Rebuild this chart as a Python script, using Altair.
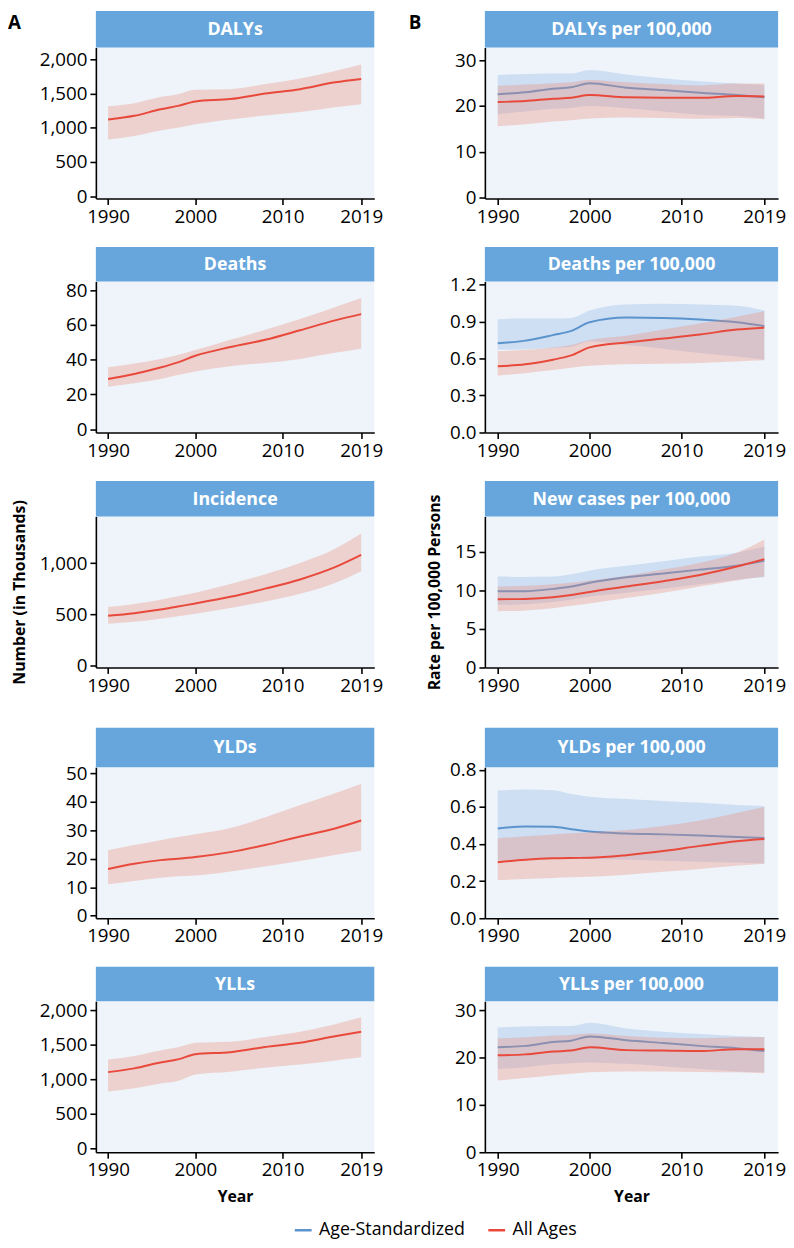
import altair as alt
import pandas as pd

FONT = "Open Sans"
YEARS = [1990, 1993, 1996, 1998, 2000, 2004, 2008, 2012, 2016, 2019]
GROUPS = ["Age-Standardized", "All Ages"]
X_TICKS = [1990, 2000, 2010, 2019]

# ---------- Panel A: number (in thousands), all ages ----------
DALYS_ALL = [1120, 1175, 1270, 1320, 1385, 1420, 1500, 1565, 1665, 1715]
DALYS_ALL_LO = [830, 880, 960, 1000, 1050, 1120, 1180, 1230, 1300, 1345]
DALYS_ALL_HI = [1315, 1360, 1450, 1490, 1555, 1565, 1640, 1720, 1830, 1925]

DEATHS_ALL = [28.9, 31.8, 35.5, 38.5, 42.3, 47.3, 51.5, 57.0, 62.7, 66.3]
DEATHS_ALL_LO = [24.4, 26.5, 28.9, 31.2, 33.3, 36.3, 38.2, 40.5, 44.0, 46.3]
DEATHS_ALL_HI = [35.7, 37.8, 40.5, 42.8, 45.6, 51.5, 57.3, 63.5, 70.3, 75.5]

INC_ALL = [485, 510, 545, 575, 605, 670, 750, 840, 960, 1080]
INC_ALL_LO = [405, 425, 455, 480, 505, 560, 625, 700, 805, 920]
INC_ALL_HI = [570, 600, 640, 675, 710, 795, 890, 1000, 1140, 1290]

YLDS_ALL = [16.4, 18.2, 19.5, 20.0, 20.6, 22.3, 24.8, 27.8, 30.6, 33.4]
YLDS_ALL_LO = [11.0, 12.2, 13.3, 13.8, 14.1, 15.5, 17.3, 19.2, 21.3, 22.8]
YLDS_ALL_HI = [23.0, 24.8, 26.5, 27.6, 28.6, 30.8, 34.5, 38.8, 43.0, 46.2]

YLLS_ALL = [1105, 1160, 1245, 1290, 1365, 1395, 1470, 1530, 1625, 1690]
YLLS_ALL_LO = [825, 870, 940, 975, 1070, 1110, 1170, 1215, 1275, 1320]
YLLS_ALL_HI = [1290, 1340, 1420, 1465, 1530, 1545, 1615, 1690, 1800, 1900]

# ---------- Panel B: rate per 100,000 ----------
DALYR_AS = [22.6, 23.0, 23.8, 24.1, 25.0, 24.0, 23.5, 22.9, 22.4, 21.9]
DALYR_AS_LO = [18.2, 18.8, 19.4, 19.6, 20.0, 19.5, 18.8, 18.1, 17.8, 17.3]
DALYR_AS_HI = [26.8, 27.0, 27.1, 27.1, 27.9, 26.9, 26.1, 25.4, 24.9, 24.6]
DALYR_ALL = [20.9, 21.1, 21.6, 21.8, 22.4, 21.9, 21.8, 21.8, 22.2, 22.1]
DALYR_ALL_LO = [15.6, 16.0, 16.6, 16.9, 17.3, 17.5, 17.4, 17.2, 17.4, 17.1]
DALYR_ALL_HI = [24.4, 24.7, 25.0, 25.2, 25.7, 25.2, 24.8, 24.5, 24.9, 24.9]

DEATHR_AS = [0.723, 0.745, 0.790, 0.824, 0.895, 0.933, 0.930, 0.918, 0.895, 0.864]
DEATHR_AS_LO = [0.670, 0.675, 0.685, 0.695, 0.740, 0.710, 0.680, 0.645, 0.615, 0.590]
DEATHR_AS_HI = [0.920, 0.925, 0.925, 0.930, 0.990, 1.040, 1.045, 1.040, 1.030, 0.990]
DEATHR_ALL = [0.536, 0.552, 0.590, 0.625, 0.690, 0.730, 0.762, 0.795, 0.835, 0.851]
DEATHR_ALL_LO = [0.460, 0.480, 0.505, 0.525, 0.540, 0.552, 0.556, 0.562, 0.575, 0.585]
DEATHR_ALL_HI = [0.660, 0.670, 0.690, 0.710, 0.750, 0.785, 0.835, 0.885, 0.940, 0.985]

INCR_AS = [9.88, 9.9, 10.2, 10.5, 11.0, 11.7, 12.2, 12.7, 13.2, 13.85]
INCR_AS_LO = [8.1, 8.2, 8.5, 8.8, 9.2, 9.7, 10.2, 10.8, 11.4, 11.7]
INCR_AS_HI = [11.8, 11.75, 11.8, 12.1, 12.6, 13.2, 13.8, 14.4, 14.9, 15.7]
INCR_ALL = [8.86, 8.9, 9.1, 9.4, 9.8, 10.5, 11.2, 12.0, 13.1, 14.06]
INCR_ALL_LO = [7.3, 7.4, 7.7, 8.0, 8.3, 9.0, 9.7, 10.5, 11.3, 11.8]
INCR_ALL_HI = [10.5, 10.6, 10.8, 11.0, 11.3, 11.9, 12.7, 13.6, 14.9, 16.6]

YLDR_AS = [0.484, 0.494, 0.493, 0.480, 0.467, 0.457, 0.452, 0.446, 0.438, 0.433]
YLDR_AS_LO = [0.310, 0.315, 0.320, 0.320, 0.320, 0.315, 0.310, 0.305, 0.300, 0.295]
YLDR_AS_HI = [0.688, 0.694, 0.690, 0.670, 0.655, 0.643, 0.632, 0.622, 0.611, 0.605]
YLDR_ALL = [0.302, 0.315, 0.323, 0.325, 0.326, 0.340, 0.362, 0.390, 0.415, 0.427]
YLDR_ALL_LO = [0.206, 0.211, 0.217, 0.221, 0.224, 0.235, 0.251, 0.266, 0.283, 0.294]
YLDR_ALL_HI = [0.431, 0.442, 0.452, 0.458, 0.463, 0.475, 0.497, 0.527, 0.567, 0.600]

YLLR_AS = [22.2, 22.5, 23.3, 23.6, 24.5, 23.7, 23.1, 22.5, 22.0, 21.4]
YLLR_AS_LO = [17.6, 18.0, 18.6, 18.8, 19.0, 18.7, 18.2, 17.6, 17.1, 16.9]
YLLR_AS_HI = [26.4, 26.6, 26.7, 26.7, 27.4, 26.2, 25.5, 25.0, 24.6, 24.4]
YLLR_ALL = [20.5, 20.7, 21.3, 21.5, 22.2, 21.6, 21.5, 21.4, 21.8, 21.8]
YLLR_ALL_LO = [15.2, 15.7, 16.3, 16.6, 16.9, 17.1, 17.1, 17.0, 16.9, 16.7]
YLLR_ALL_HI = [24.1, 24.3, 24.7, 24.8, 25.1, 24.6, 24.2, 24.1, 24.3, 24.4]

LEFT_SPECS = [
    dict(title="DALYs", series={"All Ages": (DALYS_ALL, DALYS_ALL_LO, DALYS_ALL_HI)},
         domain=[-35, 2175], ticks=[0, 500, 1000, 1500, 2000], fmt=",.0f"),
    dict(title="Deaths", series={"All Ages": (DEATHS_ALL, DEATHS_ALL_LO, DEATHS_ALL_HI)},
         domain=[-1.9, 85.1], ticks=[0, 20, 40, 60, 80], fmt="d"),
    dict(title="Incidence", series={"All Ages": (INC_ALL, INC_ALL_LO, INC_ALL_HI)},
         domain=[-22, 1457], ticks=[0, 500, 1000], fmt=",.0f"),
    dict(title="YLDs", series={"All Ages": (YLDS_ALL, YLDS_ALL_LO, YLDS_ALL_HI)},
         domain=[-0.9, 52.1], ticks=[0, 10, 20, 30, 40, 50], fmt="d"),
    dict(title="YLLs", series={"All Ages": (YLLS_ALL, YLLS_ALL_LO, YLLS_ALL_HI)},
         domain=[-57, 2134], ticks=[0, 500, 1000, 1500, 2000], fmt=",.0f"),
]

RIGHT_SPECS = [
    dict(title="DALYs per 100,000",
         series={"Age-Standardized": (DALYR_AS, DALYR_AS_LO, DALYR_AS_HI),
                 "All Ages": (DALYR_ALL, DALYR_ALL_LO, DALYR_ALL_HI)},
         domain=[-0.2, 32.8], ticks=[0, 10, 20, 30], fmt="d"),
    dict(title="Deaths per 100,000",
         series={"Age-Standardized": (DEATHR_AS, DEATHR_AS_LO, DEATHR_AS_HI),
                 "All Ages": (DEATHR_ALL, DEATHR_ALL_LO, DEATHR_ALL_HI)},
         domain=[-0.003, 1.227], ticks=[0, 0.3, 0.6, 0.9, 1.2], fmt=".1f"),
    dict(title="New cases per 100,000",
         series={"Age-Standardized": (INCR_AS, INCR_AS_LO, INCR_AS_HI),
                 "All Ages": (INCR_ALL, INCR_ALL_LO, INCR_ALL_HI)},
         domain=[0, 19.6], ticks=[0, 5, 10, 15], fmt="d"),
    dict(title="YLDs per 100,000",
         series={"Age-Standardized": (YLDR_AS, YLDR_AS_LO, YLDR_AS_HI),
                 "All Ages": (YLDR_ALL, YLDR_ALL_LO, YLDR_ALL_HI)},
         domain=[0, 0.814], ticks=[0, 0.2, 0.4, 0.6, 0.8], fmt=".1f"),
    dict(title="YLLs per 100,000",
         series={"Age-Standardized": (YLLR_AS, YLLR_AS_LO, YLLR_AS_HI),
                 "All Ages": (YLLR_ALL, YLLR_ALL_LO, YLLR_ALL_HI)},
         domain=[0, 31.95], ticks=[0, 10, 20, 30], fmt="d"),
]

HEADER_H = [37, 35, 36, 40, 35]
EXTRA_TOP = [0, 0, 0, 12, 0]
PLOT_H = 153

HEADER_COLOR = "#66a6dc"
LINE_COLORS = ["#5b93cd", "#e8493b"]
BAND_COLORS = {"Age-Standardized": "#8fb4e6", "All Ages": "#ec8c78"}
BAND_OPACITY = {"Age-Standardized": 0.33, "All Ages": 0.33}

LEGEND = alt.Legend(orient="none", legendX=200, legendY=1188, direction="horizontal",
                    title=None, symbolType="stroke", symbolSize=289, symbolStrokeWidth=2.5,
                    labelFont=FONT, labelFontSize=18, labelColor="black",
                    columnPadding=18, labelOffset=6)


def panel(spec, width, row, ytitle=None, ytp=8, letter=None, letter_dx=0):
    hh = HEADER_H[row]
    rows = []
    for g, (m, lo, hi) in spec["series"].items():
        for yr, a, b, c in zip(YEARS, m, lo, hi):
            rows.append(dict(year=yr, group=g, mean=a, lo=b, hi=c))
    df = pd.DataFrame(rows)

    xaxis = alt.Axis(values=X_TICKS, format="d",
                     title="Year" if row == 4 else None,
                     labelFlush=False, labelOverlap=False, titlePadding=9)
    xenc = alt.X("year:Q", scale=alt.Scale(domain=[1988.6, 2020.5], nice=False, zero=False),
                 axis=xaxis)
    yaxis = alt.Axis(values=spec["ticks"], format=spec["fmt"], title=ytitle,
                     titlePadding=ytp, labelOverlap=False)
    yscale = alt.Scale(domain=spec["domain"], nice=False, zero=False)

    hdr = pd.DataFrame({"t": [spec["title"]]})
    layers = []
    if EXTRA_TOP[row]:
        layers.append(alt.Chart(hdr).mark_rect(opacity=0).encode(
            x=alt.value(0), x2=alt.value(width),
            y=alt.value(-hh - EXTRA_TOP[row]), y2=alt.value(-hh)))
    layers.append(alt.Chart(hdr).mark_rect(color=HEADER_COLOR).encode(
        x=alt.value(0), x2=alt.value(width), y=alt.value(-hh), y2=alt.value(0)))
    layers.append(alt.Chart(hdr).mark_text(
        color="white", font=FONT, fontSize=18, fontWeight="bold",
        align="center", baseline="middle").encode(
        x=alt.value(width / 2), y=alt.value(-hh / 2 + 1), text="t:N"))
    if letter:
        layers.append(alt.Chart(hdr).mark_text(
            color="black", font=FONT, fontSize=19, fontWeight="bold",
            align="left", baseline="top").encode(
            x=alt.value(letter_dx), y=alt.value(-hh + 3), text=alt.value(letter)))

    base = alt.Chart(df)
    for g in GROUPS:
        if g not in spec["series"]:
            continue
        sub = base.transform_filter(alt.datum.group == g)
        layers.append(sub.mark_area(interpolate="monotone", color=BAND_COLORS[g],
                                    opacity=BAND_OPACITY[g]).encode(
            x=xenc, y=alt.Y("lo:Q", scale=yscale, axis=yaxis), y2="hi:Q"))
        layers.append(sub.mark_line(interpolate="monotone", strokeWidth=2).encode(
            x=xenc, y=alt.Y("mean:Q", scale=yscale, axis=yaxis),
            color=alt.Color("group:N", scale=alt.Scale(domain=GROUPS, range=LINE_COLORS),
                            legend=LEGEND)))
    return alt.layer(*layers).properties(width=width, height=PLOT_H)


left_panels = []
for i, s in enumerate(LEFT_SPECS):
    left_panels.append(panel(
        s, 282, i,
        ytitle="Number (in Thousands)" if i == 2 else None, ytp=12,
        letter="A" if i == 0 else None, letter_dx=-89))

right_panels = []
for i, s in enumerate(RIGHT_SPECS):
    right_panels.append(panel(
        s, 297, i,
        ytitle="Rate per 100,000 Persons" if i == 2 else None, ytp=12,
        letter="B" if i == 0 else None, letter_dx=-77))

left = alt.vconcat(*left_panels, spacing=21)
right = alt.vconcat(*right_panels, spacing=21)

chart = alt.hconcat(left, right, spacing=26).properties(
    padding={"left": 0, "top": -5, "right": 0, "bottom": 0}
).configure_view(
    fill="#eef4fa", stroke=None
).configure_axis(
    domainColor="black", domainWidth=1.6, tickColor="black", tickWidth=1.6, tickSize=6,
    labelFont=FONT, labelFontSize=19, labelColor="black", labelPadding=3,
    titleFont=FONT, titleFontSize=16, titleFontWeight="bold", titleColor="black",
    grid=False
).configure_legend(
    labelFont=FONT
)

chart.save("out.html", embed_options={"renderer": "svg", "actions": False})
